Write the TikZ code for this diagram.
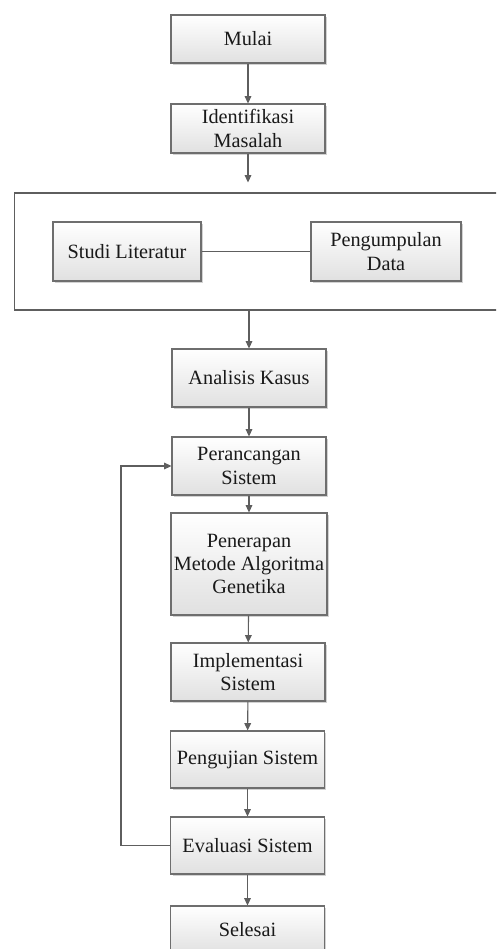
\documentclass[tikz,border=0pt]{standalone}
\usepackage{fontspec}
\setmainfont{Liberation Serif}
\usetikzlibrary{arrows.meta,shadows,positioning}
\definecolor{linegray}{HTML}{5E5E5E}
\definecolor{boxline}{HTML}{6E6E6E}
\tikzset{
  flowbox/.style={draw=boxline, line width=0.8pt, top color=white, bottom color=black!12,
    drop shadow={shadow xshift=1.3pt, shadow yshift=-1.3pt, fill=black!35, opacity=0.5},
    align=center, inner sep=1pt, text=black!90,
    font=\fontsize{15.2}{17.4}\selectfont},
  conn/.style={draw=linegray, line width=0.8pt},
  arr/.style={conn, -{Triangle[width=5pt,length=5.5pt]}, color=linegray},
}
\begin{document}
\begin{tikzpicture}[x=0.75pt,y=-0.75pt]
\useasboundingbox (0,0) rectangle (496,949);
\clip (0,0) rectangle (496,949);
\node[flowbox, minimum width=115.5pt, minimum height=36pt] (mulai) at (248,39) {Mulai};
\node[flowbox, minimum width=115.5pt, minimum height=36.75pt] (ident) at (248,128.5) {Identifikasi\\Masalah};
\node[draw=linegray, line width=0.8pt, minimum width=365pt, minimum height=87.75pt, inner sep=0pt] (frame) at (257.5,251.5) {};
\node[flowbox, minimum width=111pt, minimum height=44.25pt] (studi) at (127,251.5) {Studi Literatur};
\node[flowbox, minimum width=112.5pt, minimum height=44.25pt] (kumpul) at (386,251.5) {Pengumpulan\\Data};
\node[flowbox, minimum width=115.5pt, minimum height=43.5pt] (analisis) at (249,378) {Analisis Kasus};
\node[flowbox, minimum width=115.5pt, minimum height=43.5pt] (rancang) at (249,466) {Perancangan\\Sistem};
\node[flowbox, minimum width=117pt, minimum height=76.5pt] (terap) at (249,564) {Penerapan\\Metode Algoritma\\Genetika};
\node[flowbox, minimum width=115.5pt, minimum height=43.5pt] (impl) at (248,672) {Implementasi\\Sistem};
\node[flowbox, minimum width=115pt, minimum height=42.75pt] (uji) at (247.5,759.5) {Pengujian Sistem};
\node[flowbox, minimum width=115pt, minimum height=42.75pt] (eval) at (247.5,845.5) {Evaluasi Sistem};
\node[flowbox, minimum width=115pt, minimum height=36pt] (selesai) at (247.5,930) {Selesai};
\coordinate (fbx) at (121,0);
\draw[arr] (mulai) -- (ident);
\draw[arr, shorten >=7.5pt] (ident.south) -- (ident.south |- frame.north);
\draw[conn] (studi) -- (kumpul);
\draw[arr] (frame.south -| analisis.north) -- (analisis.north);
\draw[arr] (analisis) -- (rancang);
\draw[arr] (rancang) -- (terap);
\draw[arr] (terap) -- (impl);
\draw[arr] (impl) -- (uji);
\draw[arr] (uji) -- (eval);
\draw[arr] (eval) -- (selesai);
\draw[arr] (eval.west) -- (fbx |- eval.west) -- (fbx |- rancang.west) -- (rancang.west);
\end{tikzpicture}
\end{document}
